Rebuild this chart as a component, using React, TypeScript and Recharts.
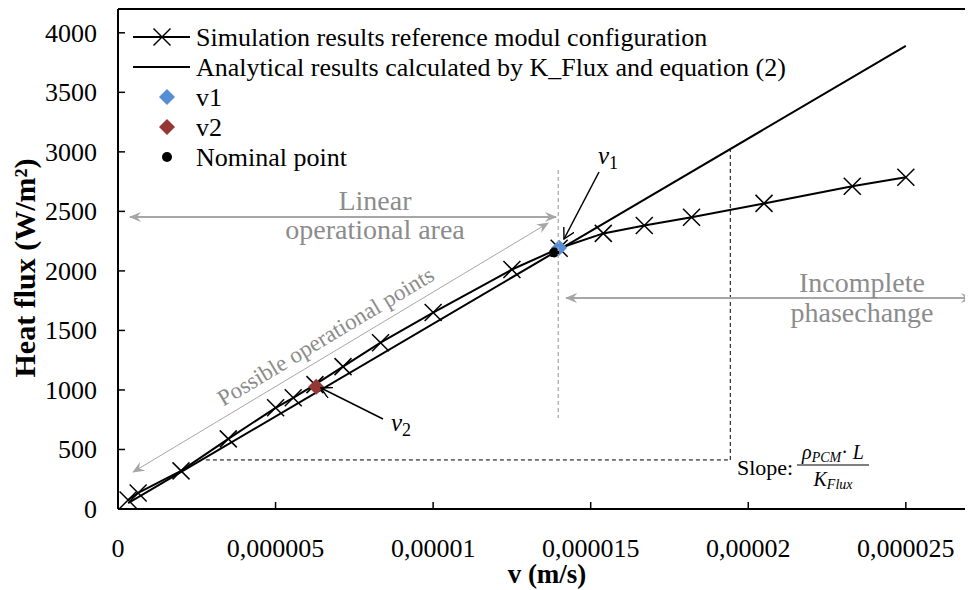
import React from 'react';
import { ComposedChart, Scatter, XAxis, YAxis, ReferenceLine, Legend } from 'recharts';

// simulation results (reference module configuration)
const simV = [
  0.00000032, 0.00000064, 0.000002, 0.0000035, 0.000005, 0.00000556, 0.00000625, 0.00000714, 0.00000833,
  0.00001, 0.0000125, 0.000014, 0.0000154, 0.0000167, 0.0000182, 0.0000205, 0.0000233, 0.000025,
];
const simFlux = [76, 135, 320, 589, 850, 934, 1045, 1196, 1397, 1650, 2012, 2190, 2315, 2382, 2450, 2567, 2711, 2786];

// analytical line (K_Flux and equation (2))
const analyticV = [0.00000032, 0.000025];
const analyticFlux = [50, 3890];

const v1V = [0.000014];
const v1Flux = [2195];
const v2V = [0.00000629];
const v2Flux = [1027];
const nominalV = [0.00001384];
const nominalFlux = [2155];

const xTicks = [0, 0.000005, 0.00001, 0.000015, 0.00002, 0.000025];
const xTickLabels = ['0', '0,000005', '0,00001', '0,000015', '0,00002', '0,000025'];
const yTicks = [0, 500, 1000, 1500, 2000, 2500, 3000, 3500, 4000];

const legendLabels = [
  'Simulation results reference modul configuration',
  'Analytical results calculated by K_Flux and equation (2)',
  'v1',
  'v2',
  'Nominal point',
];

const toPoints = (xs: number[], ys: number[]) => xs.map((x, i) => ({ x, y: ys[i] }));
const simData = toPoints(simV, simFlux);
const analyticData = toPoints(analyticV, analyticFlux);
const v1Data = toPoints(v1V, v1Flux);
const v2Data = toPoints(v2V, v2Flux);
const nominalData = toPoints(nominalV, nominalFlux);

const SERIF = "'Liberation Serif', 'Times New Roman', serif";
const serif = { fontFamily: SERIF };
const GREY = '#a6a6a6';
const GREY_TEXT = '#8c8c8c';
const BLUE = '#558ed5';
const RED = '#953735';

const W = 965;
const H = 582;
const LEFT = 110;
const TOP = 1;
const RIGHT = 1;
const XH = 81;
const X_MAX = 0.0000271;
const Y_MAX = 4200;
const plotW = W - LEFT - RIGHT;
const plotH = H - TOP - XH;
const AXIS_Y = TOP + plotH;

const sx = (v: number) => LEFT + (v / X_MAX) * plotW;
const sy = (q: number) => TOP + plotH - (q / Y_MAX) * plotH;

const CrossShape = (props: any) => {
  const { cx, cy } = props;
  const s = 8.5;
  return (
    <g stroke="#000" strokeWidth={1.5}>
      <line x1={cx - s} y1={cy - s} x2={cx + s} y2={cy + s} />
      <line x1={cx - s} y1={cy + s} x2={cx + s} y2={cy - s} />
    </g>
  );
};

const NoShape = () => <g />;

const diamond = (color: string) => (props: any) => {
  const { cx, cy } = props;
  const r = 8;
  return <polygon points={`${cx},${cy - r} ${cx + r},${cy} ${cx},${cy + r} ${cx - r},${cy}`} fill={color} />;
};

const DotShape = (props: any) => <circle cx={props.cx} cy={props.cy} r={5} fill="#000" />;

const XTick = (props: any) => {
  const { x, payload } = props;
  const idx = xTicks.indexOf(payload.value);
  return (
    <g>
      {payload.value !== 0 && <line x1={x} x2={x} y1={AXIS_Y} y2={AXIS_Y - 7} stroke="#000" strokeWidth={1.5} />}
      <text x={x} y={AXIS_Y + 48} textAnchor="middle" fontSize={26} style={serif} fill="#000">
        {xTickLabels[idx]}
      </text>
    </g>
  );
};

const YTick = (props: any) => {
  const { y, payload } = props;
  return (
    <g>
      <line x1={LEFT} x2={LEFT + 7} y1={y} y2={y} stroke="#000" strokeWidth={1.5} />
      <text x={LEFT - 21} y={y + 9} textAnchor="end" fontSize={26} style={serif} fill="#000">
        {payload.value}
      </text>
    </g>
  );
};

const renderLegend = () => (
  <svg width={720} height={165} style={{ display: 'block' }}>
    {legendLabels.map((label, i) => {
      const y = 21 + i * 30;
      return (
        <g key={label}>
          {i < 2 && <line x1={8} x2={65} y1={y} y2={y} stroke="#000" strokeWidth={2} />}
          {i === 0 && <CrossShape cx={37} cy={y} />}
          {i === 2 && diamond(BLUE)({ cx: 42, cy: y })}
          {i === 3 && diamond(RED)({ cx: 42, cy: y })}
          {i === 4 && <circle cx={42} cy={y} r={5} fill="#000" />}
          <text x={71} y={y + 9} fontSize={26} style={serif} fill="#000">
            {label}
          </text>
        </g>
      );
    })}
  </svg>
);

const Annotations = () => (
  <svg width={W} height={H} style={{ position: 'absolute', left: 0, top: 0, pointerEvents: 'none' }}>
    <defs>
      <marker id="stealth" viewBox="0 0 12 10" refX="11" refY="5" markerWidth="12" markerHeight="10" markerUnits="userSpaceOnUse" orient="auto-start-reverse">
        <path d="M0,0 L12,5 L0,10 L4,5 z" fill={GREY} />
      </marker>
      <marker id="open" viewBox="0 0 12 12" refX="11" refY="6" markerWidth="12" markerHeight="12" markerUnits="userSpaceOnUse" orient="auto">
        <path d="M0,0 L11,6 L0,12" fill="none" stroke="#000" strokeWidth={1.4} />
      </marker>
    </defs>

    {/* dashed guides */}
    <line x1={sx(0.00001397)} x2={sx(0.00001397)} y1={sy(2848)} y2={sy(764)} stroke={GREY} strokeWidth={1.2} strokeDasharray="4 3" />
    <line x1={sx(0.00000279)} x2={sx(0.00001943)} y1={sy(412)} y2={sy(412)} stroke="#000" strokeWidth={1} strokeDasharray="4 3" />
    <line x1={sx(0.00001943)} x2={sx(0.00001943)} y1={sy(412)} y2={sy(3030)} stroke="#000" strokeWidth={1} strokeDasharray="4 3" />

    {/* grey double arrows */}
    <line x1={sx(0.00000038)} x2={sx(0.0000139)} y1={sy(2453)} y2={sy(2453)} stroke={GREY} strokeWidth={2} markerStart="url(#stealth)" markerEnd="url(#stealth)" />
    <line x1={sx(0.00001422)} x2={sx(0.0000271)} y1={sy(1772)} y2={sy(1772)} stroke={GREY} strokeWidth={2} markerStart="url(#stealth)" markerEnd="url(#stealth)" />
    <line x1={sx(0.00000048)} x2={sx(0.00001365)} y1={sy(311)} y2={sy(2402)} stroke={GREY} strokeWidth={1} markerStart="url(#stealth)" markerEnd="url(#stealth)" />

    <g fill={GREY_TEXT} fontSize={28} textAnchor="middle">
      <text x={367} y={202} style={serif}>Linear</text>
      <text x={367} y={231} style={serif}>operational area</text>
      <text x={854} y={284} style={serif}>Incomplete</text>
      <text x={854} y={314} style={serif}>phasechange</text>
      <text x={318} y={336} fontSize={23} style={serif} transform="rotate(-31 318 329)">Possible operational points</text>
    </g>

    {/* v1 / v2 pointers */}
    <line x1={591} y1={164} x2={556} y2={231} stroke="#000" strokeWidth={1.5} markerEnd="url(#open)" />
    <line x1={375} y1={411} x2={313} y2={380} stroke="#000" strokeWidth={1.5} markerEnd="url(#open)" />
    <text x={590} y={156} style={serif} fontStyle="italic" fontSize={25}>
      v<tspan fontSize={18} dy={5} fontStyle="normal">1</tspan>
    </text>
    <text x={383} y={423} style={serif} fontStyle="italic" fontSize={25}>
      v<tspan fontSize={18} dy={5} fontStyle="normal">2</tspan>
    </text>

    {/* slope label */}
    <text x={729} y={467} style={serif} fontSize={22}>Slope:</text>
    <text x={825} y={451} style={serif} fontSize={20} textAnchor="middle" fontStyle="italic">
      ρ<tspan fontSize={14} dy={3}>PCM</tspan><tspan dy={-3} fontStyle="normal">·</tspan> L
    </text>
    <line x1={789} x2={861} y1={457} y2={457} stroke="#000" strokeWidth={1.2} />
    <text x={825} y={478} style={serif} fontSize={20} textAnchor="middle" fontStyle="italic">
      K<tspan fontSize={14} dy={3}>Flux</tspan>
    </text>

    {/* axis titles */}
    <text x={16} y={260} transform="rotate(-90 16 260)" textAnchor="middle" dominantBaseline="central" style={serif} fontSize={30} fontWeight="bold">
      Heat flux (W/m²)
    </text>
    <text x={539} y={566} textAnchor="middle" dominantBaseline="central" style={serif} fontSize={27} fontWeight="bold">
      v (m/s)
    </text>
  </svg>
);

export default function App() {
  return (
    <div style={{ position: 'relative', width: W, height: H, fontFamily: SERIF }}>
      <ComposedChart width={W} height={H} margin={{ top: TOP, right: RIGHT, left: 0, bottom: 0 }} style={serif}>
        <XAxis
          type="number"
          dataKey="x"
          domain={[0, X_MAX]}
          ticks={xTicks}
          tick={<XTick />}
          tickLine={false}
          tickSize={0}
          height={XH}
          axisLine={{ stroke: '#000', strokeWidth: 2 }}
          allowDataOverflow
        />
        <YAxis
          type="number"
          dataKey="y"
          domain={[0, Y_MAX]}
          ticks={yTicks}
          tick={<YTick />}
          tickLine={false}
          tickSize={0}
          width={LEFT}
          axisLine={{ stroke: '#000', strokeWidth: 2 }}
          allowDataOverflow
        />
        <ReferenceLine y={Y_MAX} stroke="#000" strokeWidth={2} />
        <Legend
          layout="horizontal"
          verticalAlign="middle"
          align="center"
          content={renderLegend}
          wrapperStyle={{ left: LEFT + 7, top: 8, width: 720, height: 165 }}
        />
        <Scatter data={analyticData} line={{ stroke: '#000', strokeWidth: 2 }} shape={<NoShape />} isAnimationActive={false} legendType="none" />
        <Scatter data={simData} line={{ stroke: '#000', strokeWidth: 2 }} shape={<CrossShape />} isAnimationActive={false} legendType="none" />
        <Scatter data={v2Data} shape={diamond(RED)} isAnimationActive={false} legendType="none" />
        <Scatter data={v1Data} shape={diamond(BLUE)} isAnimationActive={false} legendType="none" />
        <Scatter data={nominalData} shape={<DotShape />} isAnimationActive={false} legendType="none" />
      </ComposedChart>
      <Annotations />
    </div>
  );
}
